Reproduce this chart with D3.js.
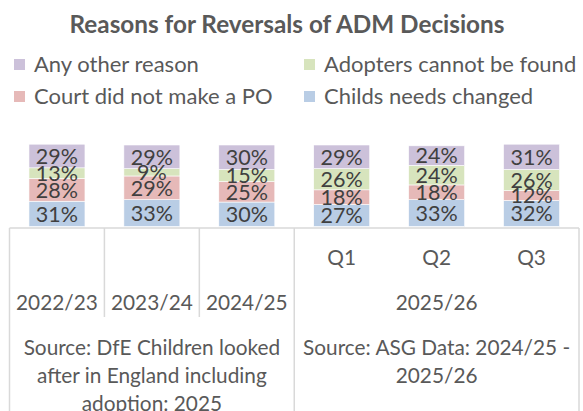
<!DOCTYPE html>
<html>
<head>
<meta charset="utf-8">
<script src="https://cdn.jsdelivr.net/npm/d3@7"></script>
<style>
  body { margin: 0; background: #fff; }
  svg { display: block; font-family: Lato, "Open Sans", sans-serif; }
</style>
</head>
<body>
<svg id="chart" width="583" height="411"></svg>
<script>
// chart data
const categories = ["2022/23", "2023/24", "2024/25", "Q1", "Q2", "Q3"];
const quarterLabels = ["", "", "", "Q1", "Q2", "Q3"];
const yearLabels = ["2022/23", "2023/24", "2024/25"];
const groupYear = "2025/26";
const seriesNames = ["Childs needs changed", "Court did not make a PO", "Adopters cannot be found", "Any other reason"];
const childsNeeds = [31, 33, 30, 27, 33, 32];
const courtNoPO = [28, 29, 25, 18, 18, 12];
const adoptersNotFound = [13, 9, 15, 26, 24, 26];
const otherReason = [29, 29, 30, 29, 24, 31];
const sourceLeft = ["Source: DfE Children looked", "after in England including", "adoption: 2025"];
const sourceRight = ["Source: ASG Data: 2024/25 -", "2025/26"];

const colors = ["#b9cde5", "#e6b9b8", "#d7e4bd", "#ccc1da"];
const textGrey = "#595959";

let svg = d3.select("#chart");

let rows = categories.map((c, i) => ({
    cat: c,
    s0: childsNeeds[i], s1: courtNoPO[i], s2: adoptersNotFound[i], s3: otherReason[i]
}));
let keys = ["s0", "s1", "s2", "s3"];
let stacked = d3.stack().keys(keys)(rows);

let x = d3.scaleBand().domain(categories).range([9.5, 579]).paddingInner(0.41).paddingOuter(0.205);
let y = d3.scaleLinear().domain([0, 100]).range([226.5, 145]);

// title
svg.append("text")
    .attr("x", 287).attr("y", 33)
    .attr("text-anchor", "middle")
    .attr("font-size", 24.3).attr("font-weight", "bold")
    .attr("fill", textGrey)
    .text("Reasons for Reversals of ADM Decisions");

// legend (order as in the picture)
let legendOrder = [3, 2, 1, 0];
let legendPos = [[14, 59], [304, 59], [14, 91], [304, 91]];
let legend = svg.append("g").selectAll("g")
    .data(legendOrder)
    .enter().append("g")
    .attr("transform", (d, i) => "translate(" + legendPos[i][0] + "," + legendPos[i][1] + ")");
legend.append("rect")
    .attr("width", 11).attr("height", 11)
    .attr("fill", d => colors[d]);
legend.append("text")
    .attr("x", 20).attr("y", 12.5)
    .attr("font-size", 22)
    .attr("fill", textGrey)
    .text(d => seriesNames[d]);

// bars
let layers = svg.append("g").selectAll("g")
    .data(stacked)
    .enter().append("g")
    .attr("fill", (d, i) => colors[i]);

layers.selectAll("rect")
    .data(d => d)
    .enter().append("rect")
    .attr("x", d => x(d.data.cat))
    .attr("width", x.bandwidth())
    .attr("y", d => y(d[1]))
    .attr("height", d => y(d[0]) - y(d[1]))
    .attr("stroke", "#fff")
    .attr("stroke-width", 0.6);

// data labels
let labels = svg.append("g");
stacked.forEach(layer => {
    labels.selectAll(null)
        .data(layer)
        .enter().append("text")
        .attr("x", d => x(d.data.cat) + x.bandwidth() / 2)
        .attr("y", d => (y(d[0]) + y(d[1])) / 2)
        .attr("dy", "0.36em")
        .attr("text-anchor", "middle")
        .attr("font-size", 21.5)
        .attr("fill", "#404040")
        .text(d => (d[1] - d[0]) + "%");
});

// category table below the bars
let step = x.step();
let left = 9.5;
let bound = i => left + step * i;
let grid = svg.append("g").attr("stroke", "#d9d9d9").attr("stroke-width", 1.5);
grid.append("line").attr("x1", bound(0)).attr("x2", bound(6)).attr("y1", 228).attr("y2", 228);
[0, 3, 6].forEach(i => {
    grid.append("line").attr("x1", bound(i)).attr("x2", bound(i)).attr("y1", 228).attr("y2", 411);
});
[1, 2].forEach(i => {
    grid.append("line").attr("x1", bound(i)).attr("x2", bound(i)).attr("y1", 228).attr("y2", 317);
});

let axisText = svg.append("g").attr("font-size", 20.8).attr("fill", textGrey).attr("text-anchor", "middle");

axisText.selectAll(".q")
    .data(categories.map((c, i) => ({ c: c, t: quarterLabels[i] })).filter(d => d.t))
    .enter().append("text")
    .attr("x", d => x(d.c) + x.bandwidth() / 2)
    .attr("y", 265)
    .text(d => d.t);

axisText.selectAll(".yr")
    .data(yearLabels)
    .enter().append("text")
    .attr("x", d => x(d) + x.bandwidth() / 2)
    .attr("y", 310)
    .text(d => d);

axisText.append("text")
    .attr("x", (bound(3) + bound(6)) / 2)
    .attr("y", 310)
    .text(groupYear);

sourceLeft.forEach((t, i) => {
    axisText.append("text")
        .attr("x", (bound(0) + bound(3)) / 2)
        .attr("y", 355 + i * 28)
        .text(t);
});
sourceRight.forEach((t, i) => {
    axisText.append("text")
        .attr("x", (bound(3) + bound(6)) / 2)
        .attr("y", 355 + i * 28)
        .text(t);
});
</script>
</body>
</html>
